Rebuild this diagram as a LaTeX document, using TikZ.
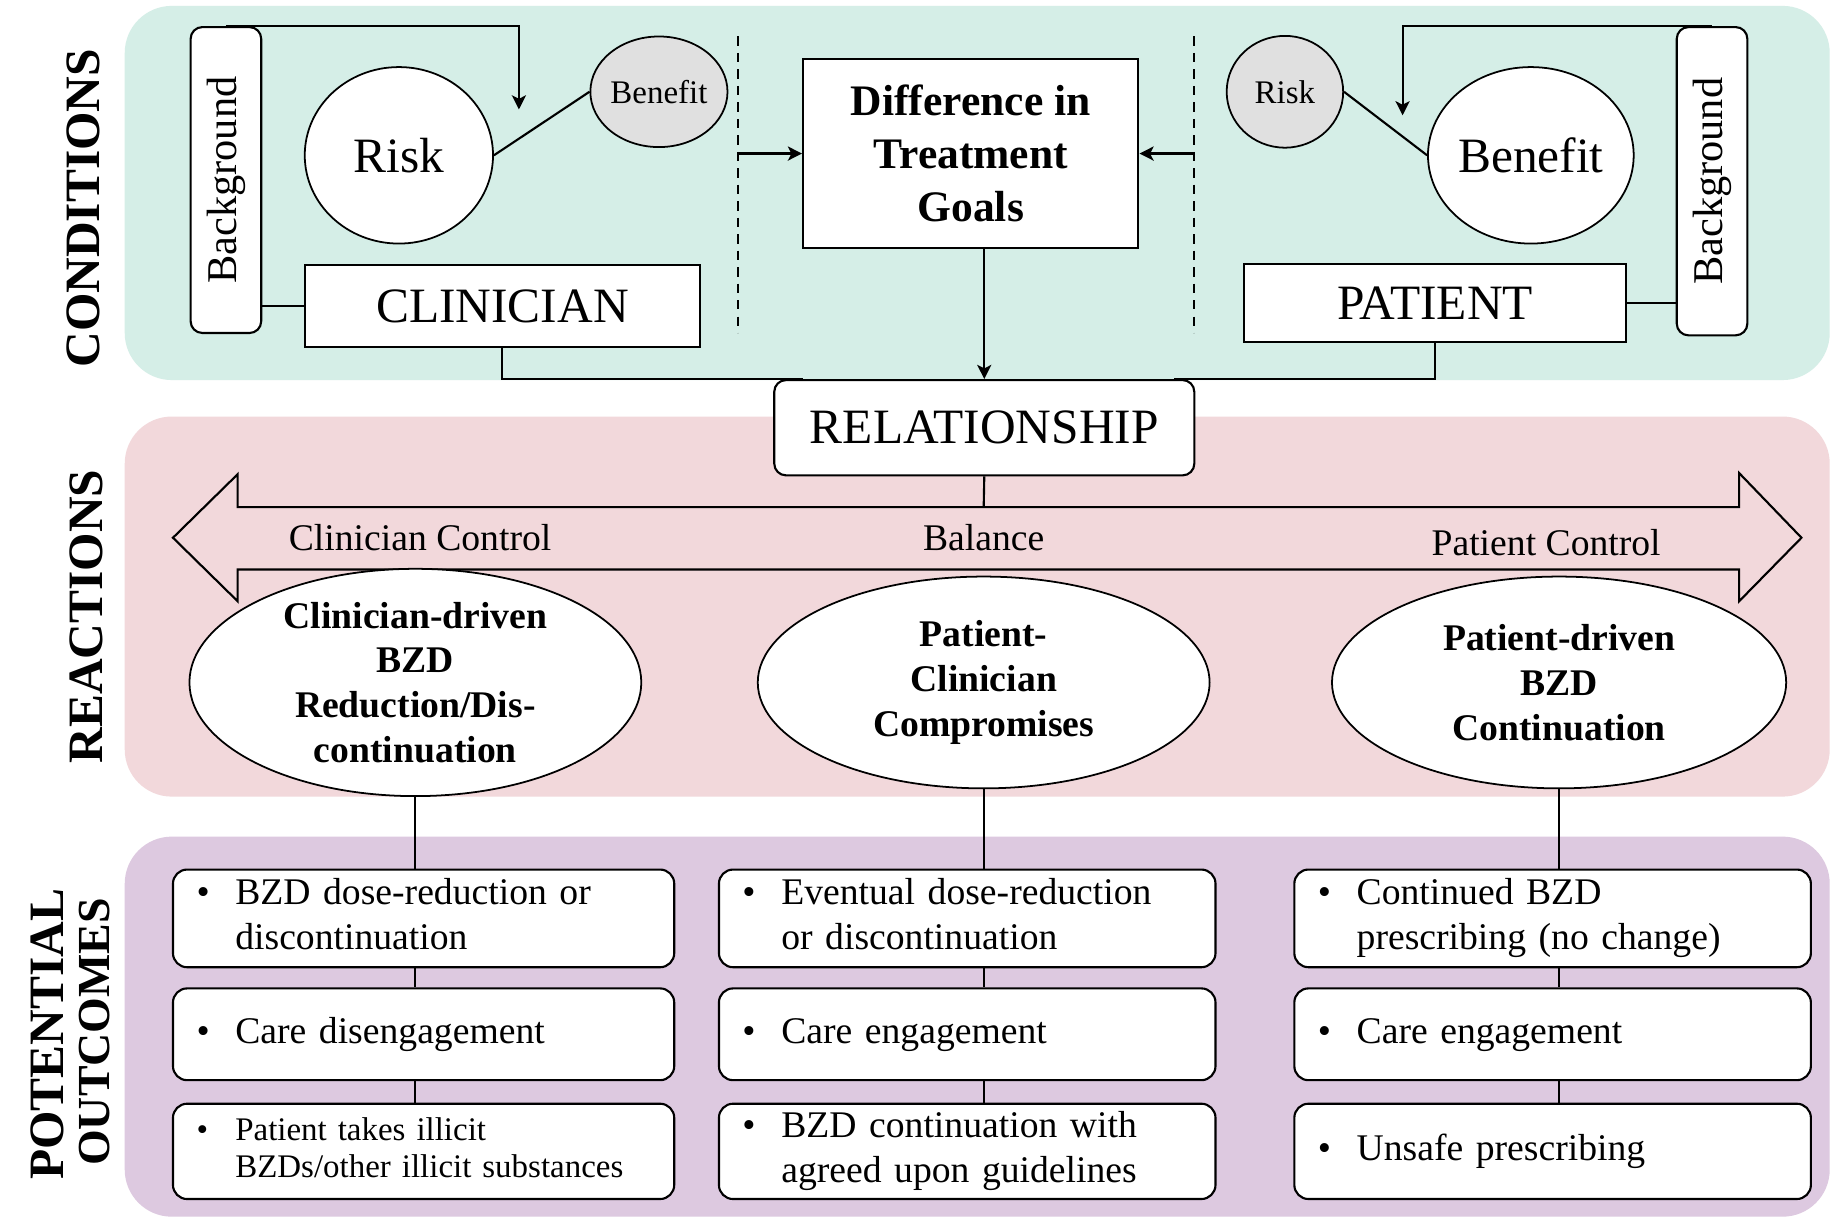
\documentclass[tikz,border=0pt]{standalone}
\usepackage{fontspec}
\setmainfont{Liberation Serif}
\usetikzlibrary{shapes.geometric,arrows.meta,calc}
\definecolor{cgreen}{HTML}{D5EEE7}
\definecolor{cpink}{HTML}{F2D8DB}
\definecolor{cpurple}{HTML}{DDC9E0}
\definecolor{cgray}{HTML}{E0E0E0}
\newcommand{\fsz}[2]{\fontsize{#1pt}{#2pt}\selectfont}
\newcommand{\bone}[1]{\begin{tabular}{@{}p{33pt}@{}l@{}}\textbullet&#1\end{tabular}}
\newcommand{\btwo}[2]{\begin{tabular}{@{}p{33pt}@{}l@{}}\textbullet&#1\\&#2\end{tabular}}
\begin{document}
\begin{tikzpicture}[x=1pt,y=-1pt,
  lbl/.style={rotate=90, font=\bfseries\fsz{42}{46}},
  bx/.style={draw, line width=1.8pt, fill=white, inner sep=0pt},
  rbx/.style={bx, rounded corners=10pt},
  circ/.style={ellipse, draw, line width=1.5pt, fill=white, inner sep=0pt},
  conn/.style={line width=1.8pt},
  arr/.style={conn, -{Stealth[length=12pt,width=12pt,inset=3pt]}},
  dsh/.style={line width=1.5pt, dash pattern=on 8pt off 6pt},
  obox/.style={draw, line width=1.8pt, fill=white, rounded corners=12pt, inner xsep=20pt, inner ysep=0pt, align=left, font=\fsz{32}{38}},
  ctl/.style={font=\fsz{32}{36}},
  ell/.style={circ, minimum width=384pt, minimum height=180pt, align=center, font=\bfseries\fsz{32}{38}}
  ]
\useasboundingbox (0,0) rectangle (1568,1036);
\fill[white] (0,0) rectangle (1568,1036);
% panels
\fill[cgreen, rounded corners=40pt] (106,5) rectangle (1555,323);
\fill[cpink, rounded corners=40pt] (106,354) rectangle (1555,677);
\fill[cpurple, rounded corners=40pt] (106,711) rectangle (1555,1034);
% side labels
\node[lbl] (lcond) at (71,177) {CONDITIONS};
\node[lbl] (lreac) at (73,524) {REACTIONS};
\node[lbl] (lpot) at (40,879) {POTENTIAL};
\node[lbl, font=\bfseries\fsz{39}{42}] (lout) at (80,877) {OUTCOMES};
% clinician side
\node[rbx, rotate=90, minimum width=260pt, minimum height=60pt, font=\fsz{36}{40}] (bgl) at (192,153) {Background};
\node[circ, minimum width=160pt, minimum height=150pt, font=\fsz{42}{46}] (riskL) at (339,132) {Risk};
\node[circ, fill=cgray, minimum width=98pt, minimum height=94pt, font=\fsz{28}{30}] (benL) at (560,78) {Benefit};
\draw[conn] (riskL.east) -- (benL.west);
\coordinate (tgtL) at (441,93);
\draw[arr] (bgl.east) -| (tgtL);
\node[bx, minimum width=336pt, minimum height=70pt, font=\fsz{42}{46}] (clin) at (427,260) {CLINICIAN};
\draw[conn] (clin.west) -- (clin.west -| bgl.south);
% difference
\coordinate (d1t) at (627,31); \coordinate (d1b) at (627,283);
\draw[dsh] (d1t) -- (d1b);
\node[bx, minimum width=285pt, minimum height=161pt, align=center, font=\bfseries\fsz{37}{45}] (diff) at (825,130.5) {Difference in\\Treatment\\Goals};
\draw[arr] (diff.west -| d1t) -- (diff.west);
\coordinate (d2t) at (1015,31); \coordinate (d2b) at (1015,283);
\draw[dsh] (d2t) -- (d2b);
\draw[arr] (diff.east -| d2t) -- (diff.east);
% patient side
\node[circ, fill=cgray, minimum width=99pt, minimum height=95pt, font=\fsz{28}{30}] (riskR) at (1092,78) {Risk};
\node[circ, minimum width=158pt, minimum height=150pt, font=\fsz{42}{46}] (benR) at (1301,132) {Benefit};
\draw[conn] (riskR.east) -- (benR.west);
\node[rbx, rotate=90, minimum width=262pt, minimum height=60pt, font=\fsz{36}{40}] (bgr) at (1455,154) {Background};
\coordinate (tgtR) at (1192,98);
\draw[arr] (bgr.east) -| (tgtR);
\node[bx, minimum width=325pt, minimum height=67pt, font=\fsz{42}{46}] (pat) at (1219.5,257.5) {PATIENT};
\draw[conn] (pat.east) -- (pat.east -| bgr.north);
% relationship
\node[rbx, minimum width=357pt, minimum height=81pt, font=\fsz{42}{46}] (rel) at (836.5,363.5) {RELATIONSHIP};
\draw[arr] (diff.south -| rel.north) -- (rel.north);
\draw[conn] (clin.south) |- ([xshift=25pt]rel.north west);
\draw[conn] (pat.south) |- ([xshift=-18pt]rel.north east);
% double arrow
\draw[conn, line join=miter] (147,457) -- (202,403) -- (202,431) -- (1478,431) -- (1478,402) -- (1531,457) -- (1478,511) -- (1478,484) -- (202,484) -- (202,511) -- cycle;
\coordinate (arrtop) at (836,431);
\draw[conn] (rel.south) -- (arrtop);
\node[ctl] (cc) at (357,457) {Clinician Control};
\node[ctl] (bal) at (836,457) {Balance};
\node[ctl] (pc) at (1314,461) {Patient Control};
% reactions
\node[ell] (el1) at (353,580) {Clinician-driven\\BZD\\Reduction/Dis-\\continuation};
\node[ell] (el2) at (836,580) {Patient-\\Clinician\\Compromises};
\node[ell, minimum width=386pt] (el3) at (1325,580) {Patient-driven\\BZD\\Continuation};
% outcomes
\node[obox, minimum height=83pt, text width=386pt] (o11) at (360,780.5) {\btwo{BZD dose-reduction or}{discontinuation}};
\node[obox, minimum height=78pt, text width=386pt] (o12) at (360,879) {\bone{Care disengagement}};
\node[obox, minimum height=81pt, text width=386pt, font=\fsz{28}{32}] (o13) at (360,978.5) {\btwo{Patient takes illicit}{BZDs/other illicit substances}};
\node[obox, minimum height=83pt, text width=382pt] (o21) at (822,780.5) {\btwo{Eventual dose-reduction}{or discontinuation}};
\node[obox, minimum height=78pt, text width=382pt] (o22) at (822,879) {\bone{Care engagement}};
\node[obox, minimum height=81pt, text width=382pt] (o23) at (822,978.5) {\btwo{BZD continuation with}{agreed upon guidelines}};
\node[obox, minimum height=83pt, text width=399pt] (o31) at (1319.5,780.5) {\btwo{Continued BZD}{prescribing (no change)}};
\node[obox, minimum height=78pt, text width=399pt] (o32) at (1319.5,879) {\bone{Care engagement}};
\node[obox, minimum height=81pt, text width=399pt] (o33) at (1319.5,978.5) {\bone{Unsafe prescribing}};
\foreach \e/\a/\b/\c in {el1/o11/o12/o13, el2/o21/o22/o23, el3/o31/o32/o33}{
  \draw[conn] (\e.south) -- (\e.south |- \a.north);
  \draw[conn] (\e.south |- \a.south) -- (\e.south |- \b.north);
  \draw[conn] (\e.south |- \b.south) -- (\e.south |- \c.north);
}
\end{tikzpicture}
\end{document}
